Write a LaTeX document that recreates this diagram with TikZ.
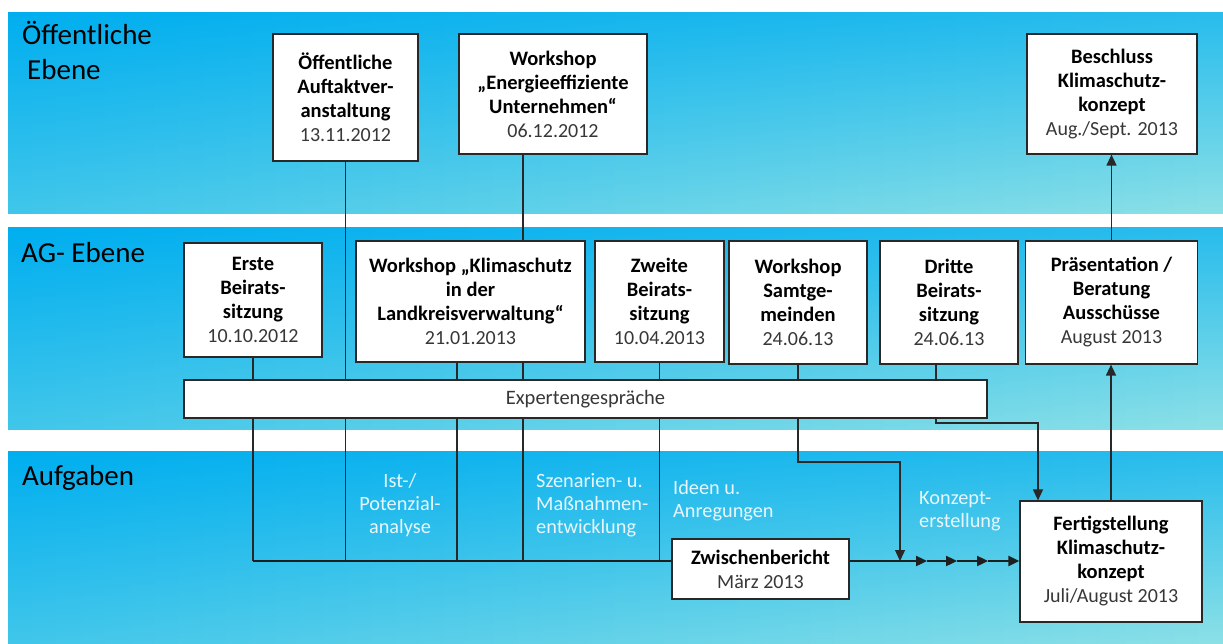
\documentclass[tikz,border=0pt]{standalone}
\usepackage{fontspec}
\setmainfont{Carlito}
\usetikzlibrary{arrows.meta}

\definecolor{lncol}{RGB}{40,40,40}
\definecolor{dgray}{RGB}{55,55,55}
\definecolor{lbl}{RGB}{232,246,252}
\definecolor{TL}{RGB}{0,174,239}
\definecolor{TR}{RGB}{40,188,236}
\definecolor{BL}{RGB}{65,198,234}
\definecolor{BR}{RGB}{140,224,230}

\newcommand\dtxt[1]{{\mdseries\fontsize{20}{24}\selectfont\color{dgray}#1}}
\newcommand\myband[2]{%
  \foreach \i in {0,...,49}{%
    \pgfmathtruncatemacro\p{100*\i/49}%
    \pgfmathsetmacro\xa{8+\i*24.3}%
    \pgfmathsetmacro\xb{\xa+25.3}%
    \colorlet{tc}{TR!\p!TL}%
    \colorlet{bc}{BR!\p!BL}%
    \shade[top color=tc, bottom color=bc] (\xa,#1) rectangle (\xb,#2);
  }}

\pgfdeclarelayer{bands}
\pgfdeclarelayer{lines}
\pgfsetlayers{bands,lines,main}

\tikzset{
  box/.style={draw=lncol, line width=1.2pt, fill=white, align=center, inner sep=0pt,
    font=\fontsize{20.5}{24}\selectfont\bfseries},
  ln/.style={draw=lncol, line width=1.3pt},
  arr/.style={ln, -{Triangle[length=11pt,width=10pt]}},
  mainln/.style={draw=black!88, line width=2.3pt},
  mainarr/.style={mainln, -{Triangle[length=11pt,width=10pt]}},
  hd/.style={font=\fontsize{29}{35}\selectfont, inner sep=0pt, align=left, text=black},
  lab/.style={font=\fontsize{20.3}{23}\selectfont, inner sep=0pt, text=lbl},
}

\begin{document}
\begin{tikzpicture}[x=1pt, y=-1pt]
\useasboundingbox (0,0) rectangle (1223,644);

\begin{pgfonlayer}{bands}
  \fill[white] (0,0) rectangle (1223,644);
  \myband{13}{214}
  \myband{228}{429}
  \myband{451}{644}
\end{pgfonlayer}

% level labels (base anchor = last line)
\node[hd, anchor=base west] (h1) at (22,80) {Öffentliche\\\hspace*{5pt}Ebene};
\node[hd, anchor=base west] (h2) at (21,262) {AG- Ebene};
\node[hd, anchor=base west] (h3) at (22,485) {Aufgaben};

% boxes
\node[box, minimum width=145pt, minimum height=127pt] (auf) at (345.5,97.5)
  {Öffentliche\\Auftaktver-\\anstaltung\\\dtxt{13.11.2012}};
\node[box, minimum width=188pt, minimum height=120pt] (ene) at (553,94)
  {Workshop\\„Energieeffiziente\\Unternehmen“\\\dtxt{06.12.2012}};
\node[box, minimum width=170pt, minimum height=120pt] (bes) at (1112,94)
  {Beschluss\\Klimaschutz-\\konzept\\\dtxt{Aug./Sept. 2013}};

\node[box, minimum width=138pt, minimum height=114pt] (ers) at (253,300)
  {Erste\\Beirats-\\sitzung\\\dtxt{10.10.2012}};
\node[box, minimum width=229pt, minimum height=121pt] (wkl) at (470.5,301.5)
  {Workshop „Klimaschutz\\in der\\Landkreisverwaltung“\\\dtxt{21.01.2013}};
\node[box, minimum width=129pt, minimum height=121pt] (zwe) at (659.5,301.5)
  {Zweite\\Beirats-\\sitzung\\\dtxt{10.04.2013}};
\node[box, minimum width=138pt, minimum height=123pt] (sam) at (798,302.5)
  {Workshop\\Samtge-\\meinden\\\dtxt{24.06.13}};
\node[box, minimum width=138pt, minimum height=123pt] (dri) at (949,302.5)
  {Dritte\\Beirats-\\sitzung\\\dtxt{24.06.13}};
\node[box, minimum width=172pt, minimum height=123pt] (pra) at (1111.5,302.5)
  {Präsentation /\\Beratung\\Ausschüsse\\\dtxt{August 2013}};
\node[box, minimum width=803pt, minimum height=38pt, font=\fontsize{20.5}{24}\selectfont, text=dgray] (exp) at (585.5,399)
  {Expertengespräche};

\node[box, minimum width=177pt, minimum height=60pt] (zwi) at (760.5,569)
  {Zwischenbericht\\\dtxt{März 2013}};
\node[box, minimum width=182pt, minimum height=121pt] (fer) at (1111,561.5)
  {Fertigstellung\\Klimaschutz-\\konzept\\\dtxt{Juli/August 2013}};

% task labels (base anchor = last line)
\node[lab, align=center, anchor=base] (l1) at (400,533) {Ist-/\\Potenzial-\\analyse};
\node[lab, align=left, anchor=base west] (l2) at (536,533) {Szenarien- u.\\Maßnahmen-\\entwicklung};
\node[lab, align=left, anchor=base west] (l3) at (673,517) {Ideen u.\\Anregungen};
\node[lab, align=left, anchor=base west] (l4) at (919,527) {Konzept-\\erstellung};

% helper coordinates
\coordinate (m0) at (253,561);
\coordinate (sk) at (900,462);
\coordinate (dk) at (1038,423);
\coordinate (a1) at (927,561);
\coordinate (a2) at (957,561);
\coordinate (a3) at (988,561);

\begin{pgfonlayer}{lines}
  \draw[ln] (ers.south) -- (m0);
  \draw[ln] (auf.south) -- (auf.south |- m0);
  \draw[ln] ([xshift=-30pt]ene.south) -- ([xshift=-30pt]ene.south |- m0);
  \draw[ln] ([xshift=-13.5pt]wkl.south) -- ([xshift=-13.5pt]wkl.south |- m0);
  \draw[ln] (zwe.south) -- (zwe.south |- m0);
  \draw[arr] (sam.south) |- (sk) -- (sk |- m0);
  \draw[arr] ([xshift=-13pt]dri.south) |- (dk) -- (dk |- fer.north);
  \draw[arr] (fer.north) -- (fer.north |- pra.south);
  \draw[arr] (pra.north) -- (pra.north |- bes.south);
  \draw[mainln] (m0) -- (m0 -| zwi.west);
  \draw[mainarr] (zwi.east |- m0) -- (a1);
  \draw[mainarr] (a1) -- (a2);
  \draw[mainarr] (a2) -- (a3);
  \draw[mainarr] (a3) -- (a3 -| fer.west);
\end{pgfonlayer}
\end{tikzpicture}
\end{document}
